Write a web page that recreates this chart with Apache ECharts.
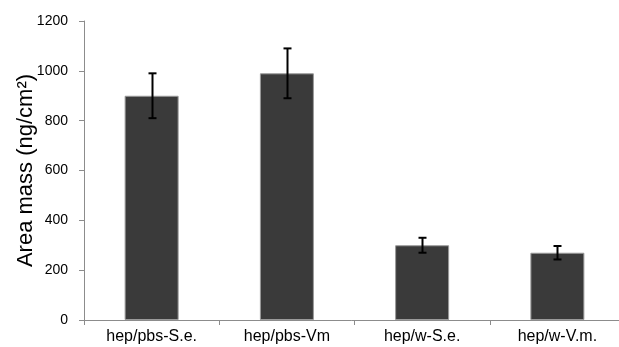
<!DOCTYPE html>
<html><head><meta charset="utf-8">
<script src="https://cdn.jsdelivr.net/npm/echarts@6/dist/echarts.min.js"></script>
<style>html,body{margin:0;padding:0;background:#fff}#c{width:619px;height:347px}</style>
</head><body><div id="c"></div>
<script>
const categories = ['hep/pbs-S.e.', 'hep/pbs-Vm', 'hep/w-S.e.', 'hep/w-V.m.'];
const values = [900, 990, 300, 270];
const errors = [90, 100, 30, 27];
const yTicks = [0, 200, 400, 600, 800, 1000, 1200];

const chart = echarts.init(document.getElementById('c'), null, {renderer: 'canvas'});
const font = 'Arial, "Liberation Sans", sans-serif';
chart.setOption({
  animation: false,
  grid: {left: 84, top: 21, width: 541, height: 299, containLabel: false, outerBoundsMode: 'none'},
  xAxis: {
    type: 'category', data: categories, boundaryGap: true,
    axisLine: {lineStyle: {color: '#8c8c8c', width: 1}},
    axisTick: {show: true, length: 5, lineStyle: {color: '#8c8c8c'}},
    axisLabel: {color: '#000', fontSize: 16, fontFamily: font, margin: 9}
  },
  yAxis: {
    type: 'value', min: yTicks[0], max: yTicks[yTicks.length - 1], interval: 200,
    name: 'Area mass (ng/cm²)', nameLocation: 'middle', nameGap: 47, nameMoveOverlap: false,
    nameTextStyle: {color: '#000', fontSize: 22, fontFamily: font},
    axisLine: {show: true, lineStyle: {color: '#8c8c8c', width: 1}},
    axisTick: {show: true, length: 5, lineStyle: {color: '#8c8c8c'}},
    axisLabel: {color: '#000', fontSize: 14, fontFamily: font, margin: 16,
      formatter: v => String(v)},
    splitLine: {show: false}
  },
  series: [
    {
      type: 'bar', data: values, barWidth: 54,
      itemStyle: {color: '#3a3a3a', borderColor: '#9a9a9a', borderWidth: 1}
    },
    {
      type: 'custom',
      data: values.map((v, i) => [i, v - errors[i], v + errors[i]]),
      renderItem: function (params, api) {
        const lo = api.coord([api.value(0), api.value(1)]);
        const hi = api.coord([api.value(0), api.value(2)]);
        const x = Math.round(lo[0]) + 0.5, hw = 4;
        const st = {stroke: '#000', lineWidth: 2};
        return {type: 'group', children: [
          {type: 'line', shape: {x1: x, y1: hi[1], x2: x, y2: lo[1]}, style: st},
          {type: 'line', shape: {x1: x - hw, y1: hi[1], x2: x + hw, y2: hi[1]}, style: st},
          {type: 'line', shape: {x1: x - hw, y1: lo[1], x2: x + hw, y2: lo[1]}, style: st}
        ]};
      },
      z: 10
    }
  ]
});
</script></body></html>
